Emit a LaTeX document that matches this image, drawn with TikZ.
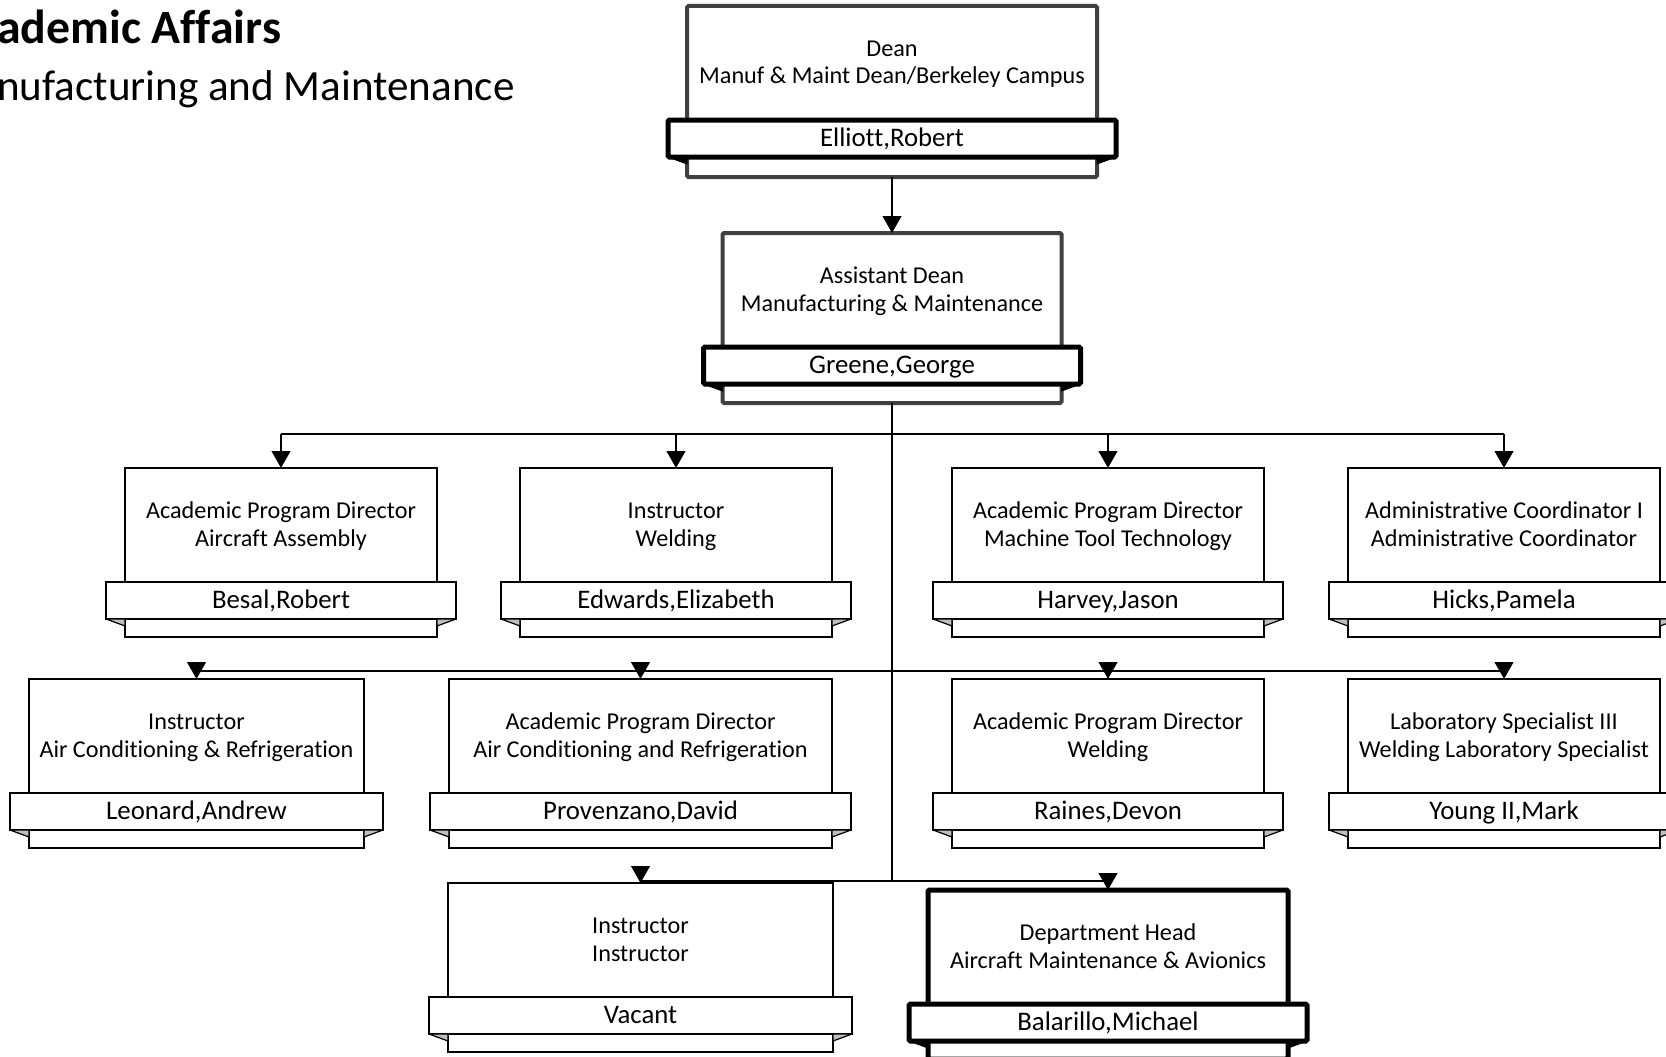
\documentclass[tikz,border=0pt]{standalone}
\usepackage{fontspec}
\setmainfont{Carlito}[Ligatures=NoCommon]
\usetikzlibrary{arrows.meta}
\newcommand\oxjobfont{\fontsize{24.2}{28}\selectfont}
\newcommand\oxnamefont{\fontsize{26.8}{30}\selectfont}
\newcommand\oxtitlefont{\fontsize{47.8}{50}\selectfont\bfseries}
\newcommand\oxsubfont{\fontsize{43.1}{50}\selectfont}
\tikzset{
  boxthin/.style={rectangle, draw=black, line width=1.6pt, fill=white, outer sep=0pt, inner sep=0pt},
  bandthin/.style={rectangle, draw=black, line width=1.6pt, fill=white, outer sep=0pt, inner sep=0pt,
    font=\oxnamefont, text height=19pt, text depth=4pt},
  wedgethin/.style={draw=black, line width=1.2pt, fill=black!25, line join=round},
  boxgray/.style={rectangle, draw=black!75, line width=4pt, fill=white, outer sep=0pt, inner sep=0pt, rounded corners=1.5pt},
  bandgray/.style={bandthin, line width=5pt, rounded corners=1.5pt},
  wedgegray/.style={draw=black, fill=black, line width=1pt, line join=round},
  boxthick/.style={boxgray, draw=black, line width=5pt},
  bandthick/.style={bandgray},
  wedgethick/.style={wedgegray},
  jobtext/.style={anchor=base, align=center, font=\oxjobfont, inner sep=0pt},
  conn/.style={line width=2.8pt, draw=black},
  arr/.style={conn, -{Triangle[length=17pt, width=18.5pt]}},
}
% name, cx, top, width, height, kind, title, person
\newcommand\orgunit[8]{%
  \node[box#6, minimum width=#4, minimum height=#5, anchor=north] (#1) at (#2,#3) {};
  \node[band#6, minimum width=#4+38, minimum height=37, anchor=north] (#1n) at (#2,#3+114) {#8};
  \filldraw[wedge#6] (#1n.south west) -- (#1.west |- #1n.south) -- ++(0,7) -- cycle;
  \filldraw[wedge#6] (#1n.south east) -- (#1.east |- #1n.south) -- ++(0,7) -- cycle;
  \node[jobtext] (#1t) at (#2,#3+78) {#7};
}
\begin{document}
\begin{tikzpicture}[x=1pt,y=-1pt]
\useasboundingbox (0,0) rectangle (1666,1057);
\clip (0,0) rectangle (1666,1057);
\fill[white] (0,0) rectangle (1666,1057);

\node[anchor=base west, font=\oxtitlefont, inner sep=0pt] (title) at (-3,44) {ademic Affairs};
\node[anchor=base west, font=\oxsubfont, inner sep=0pt] (subtitle) at (-3,100) {nufacturing and Maintenance};

\coordinate (j1) at (892,434);
\coordinate (j2) at (892,671);
\coordinate (j3) at (892,881);

\orgunit{dean}{892}{6}{410}{171}{gray}{Dean\\Manuf \& Maint Dean/Berkeley Campus}{Elliott,Robert}
\orgunit{asst}{892}{233}{339}{170}{gray}{Assistant Dean\\Manufacturing \& Maintenance}{Greene,George}
\orgunit{bes}{281}{468}{312}{169}{thin}{Academic Program Director\\Aircraft Assembly}{Besal,Robert}
\orgunit{edw}{676}{468}{312}{169}{thin}{Instructor\\Welding}{Edwards,Elizabeth}
\orgunit{har}{1108}{468}{312}{169}{thin}{Academic Program Director\\Machine Tool Technology}{Harvey,Jason}
\orgunit{hic}{1504}{468}{312}{169}{thin}{Administrative Coordinator I\\Administrative Coordinator}{Hicks,Pamela}
\orgunit{leo}{196.5}{679}{335}{169}{thin}{Instructor\\Air Conditioning \& Refrigeration}{Leonard,Andrew}
\orgunit{pro}{640.5}{679}{383}{169}{thin}{Academic Program Director\\Air Conditioning and Refrigeration}{Provenzano,David}
\orgunit{rai}{1108}{679}{312}{169}{thin}{Academic Program Director\\Welding}{Raines,Devon}
\orgunit{you}{1504}{679}{312}{169}{thin}{Laboratory Specialist III\\Welding Laboratory Specialist}{Young II,Mark}
\orgunit{vac}{640.5}{883}{385}{169}{thin}{Instructor\\Instructor}{Vacant}
\orgunit{bal}{1108}{890}{360}{169}{thick}{Department Head\\Aircraft Maintenance \& Avionics}{Balarillo,Michael}

\draw[arr] (dean.south) -- (asst.north);
\draw[conn] (asst.south) -- (j3);
\draw[conn] (bes.north |- j1) -- (hic.north |- j1);
\foreach \n in {bes,edw,har,hic} \draw[arr] (\n.north |- j1) -- (\n.north);
\draw[conn] (leo.north |- j2) -- (you.north |- j2);
\foreach \n in {leo,pro,rai,you} \draw[arr] (\n.north |- j2) -- (\n.north);
\draw[conn] (vac.north |- j3) -- (bal.north |- j3);
\foreach \n in {vac,bal} \draw[arr] (\n.north |- j3) -- (\n.north);
\end{tikzpicture}
\end{document}
